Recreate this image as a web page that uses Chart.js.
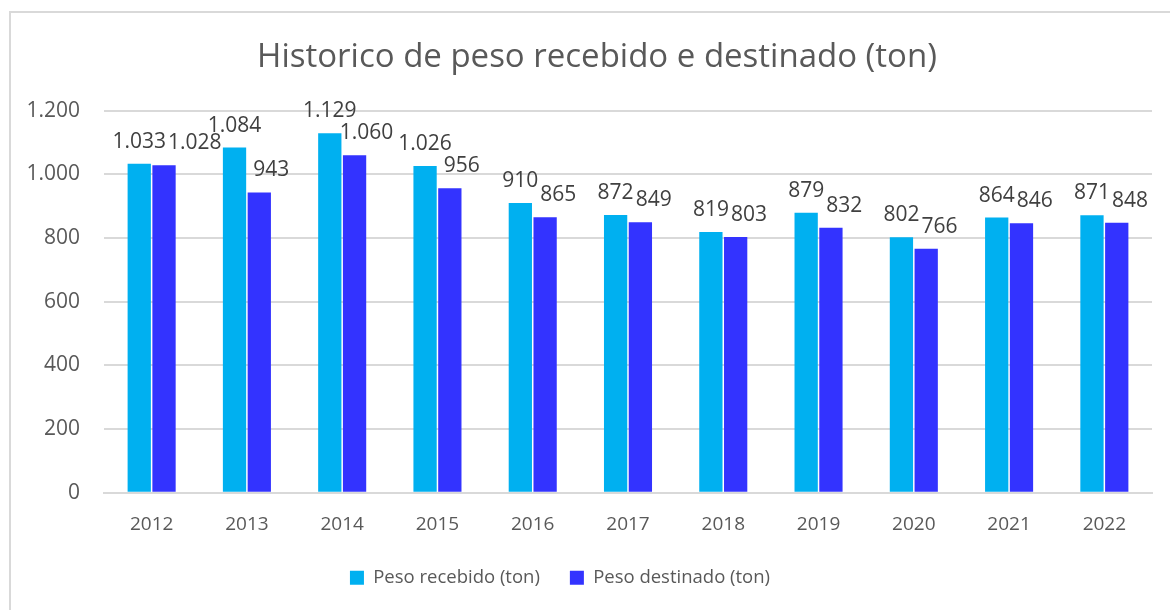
<!DOCTYPE html>
<html>
<head>
<meta charset="utf-8">
<script src="https://cdn.jsdelivr.net/npm/chart.js@4/dist/chart.umd.min.js"></script>
<style>
  html, body { margin: 0; padding: 0; background: #fff; }
  #wrap { position: relative; width: 1170px; height: 610px; overflow: hidden; }
  #frame { position: absolute; left: 9px; top: 11px; width: 1170px; height: 610px; border: 2px solid #d9d9d9; box-sizing: border-box; }
  canvas { position: absolute; left: 0; top: 0; }
</style>
</head>
<body>
<div id="wrap">
  <div id="frame"></div>
  <canvas id="chart" width="1170" height="610"></canvas>
</div>
<script>
var years = ["2012","2013","2014","2015","2016","2017","2018","2019","2020","2021","2022"];
var pesoRecebido = [1033, 1084, 1129, 1026, 910, 872, 819, 879, 802, 864, 871];
var pesoDestinado = [1028, 943, 1060, 956, 865, 849, 803, 832, 766, 846, 848];
var yTicks = [0, 200, 400, 600, 800, 1000, 1200];

var fontName = "'Open Sans', 'Noto Sans', sans-serif";
var textColor = "#595959";

function fmt(v) {
    return String(v).replace(/\B(?=(\d{3})+(?!\d))/g, ".");
}

// value labels above the bars (second series nudged right like the original)
var labelPlugin = {
    id: "barLabels",
    afterLayout: function (chart) {
        // title sits centred on the full frame, legend a bit left of it
        chart.titleBlock.left += 21;
        chart.titleBlock.right += 21;
        chart.legend.left -= 16;
        chart.legend.right -= 16;
    },
    afterDatasetsDraw: function (chart) {
        var ctx = chart.ctx;
        ctx.save();
        ctx.font = "21px " + fontName;
        ctx.fillStyle = "#404040";
        ctx.textAlign = "center";
        ctx.textBaseline = "alphabetic";
        var a = chart.getDatasetMeta(0).data;
        var b = chart.getDatasetMeta(1).data;
        var dsA = chart.data.datasets[0].data;
        var dsB = chart.data.datasets[1].data;
        for (var j = 0; j < a.length; j++) {
            var ta = fmt(dsA[j]), tb = fmt(dsB[j]);
            var wa = ctx.measureText(ta).width, wb = ctx.measureText(tb).width;
            var ya = a[j].y - 16, yb = b[j].y - 16;
            var xb = b[j].x + 12;
            // push the second label right if it would run into the first
            if (Math.abs(ya - yb) < 18) {
                var minX = a[j].x + wa / 2 + 2 + wb / 2;
                if (xb < minX) xb = minX;
            }
            ctx.fillText(ta, a[j].x, ya);
            ctx.fillText(tb, xb, yb);
        }
        ctx.restore();
    }
};

var config = {
    type: "bar",
    data: {
        labels: years,
        datasets: [{
            label: "Peso recebido (ton)",
            data: pesoRecebido,
            backgroundColor: "#00B0F0",
            borderWidth: 0,
            categoryPercentage: 0.52,
            barPercentage: 0.94
        }, {
            label: "Peso destinado (ton)",
            data: pesoDestinado,
            backgroundColor: "#3333FF",
            borderWidth: 0,
            categoryPercentage: 0.52,
            barPercentage: 0.94
        }]
    },
    options: {
        responsive: false,
        animation: false,
        layout: { padding: { left: 0, right: 18, top: 38, bottom: 13 } },
        plugins: {
            title: {
                display: true,
                text: "Historico de peso recebido e destinado (ton)",
                color: textColor,
                font: { family: fontName, size: 33, weight: "normal" },
                padding: { top: 0, bottom: 33 }
            },
            legend: {
                position: "bottom",
                labels: {
                    color: textColor,
                    font: { family: fontName, size: 18.5 },
                    boxWidth: 14,
                    boxHeight: 14,
                    padding: 30
                }
            },
            tooltip: { enabled: false }
        },
        scales: {
            x: {
                grid: { display: false, drawTicks: false },
                border: { color: "#d9d9d9", width: 2 },
                afterFit: function (axis) { axis.height -= 17; },
                ticks: { color: textColor, font: { family: fontName, size: 19 }, padding: 20 }
            },
            y: {
                min: 0,
                max: 1200,
                afterBuildTicks: function (axis) {
                    axis.ticks = yTicks.map(function (v) { return { value: v }; });
                },
                afterFit: function (axis) { axis.width = 104; },
                grid: { color: "#d9d9d9", lineWidth: 2, drawTicks: false },
                border: { display: false },
                ticks: {
                    color: textColor,
                    font: { family: fontName, size: 21 },
                    padding: 24,
                    callback: function (v) { return fmt(v); }
                }
            }
        }
    },
    plugins: [labelPlugin]
};

var barChart = new Chart(document.getElementById("chart"), config);
</script>
</body>
</html>
